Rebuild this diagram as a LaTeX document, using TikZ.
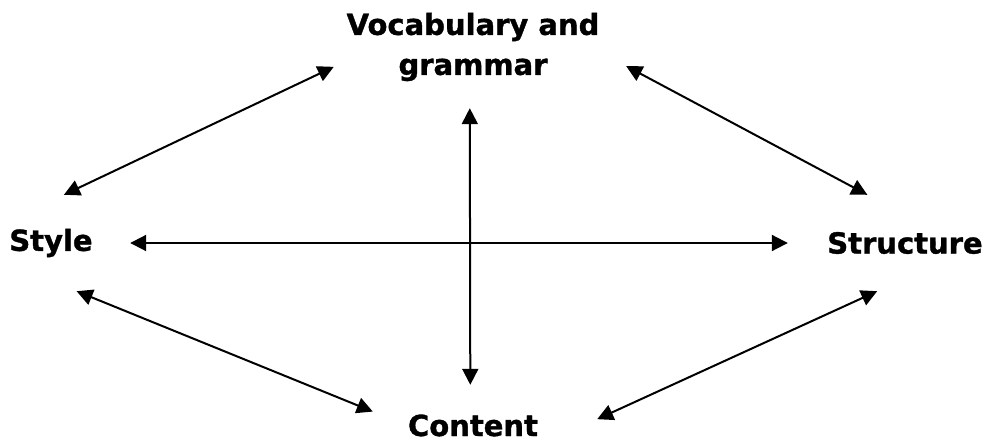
\documentclass[tikz,border=0pt]{standalone}
\usepackage{fontspec}
\setmainfont{DejaVu Sans}[BoldFeatures={FakeBold=1.2}]
\usepackage{tikz}
\usetikzlibrary{arrows.meta, positioning}

\begin{document}
\begin{tikzpicture}[
    x=1pt, y=-1pt,
    font=\fontsize{29}{40}\selectfont\bfseries,
    term_node/.style={inner sep=0pt, align=center},
    arrow/.style={{Triangle[length=16pt,width=16pt]}-{Triangle[length=16pt,width=16pt]}, line width=2pt, draw=black}
]
\useasboundingbox (0,0) rectangle (987,441);

% Terms
\node[term_node, minimum width=292pt, minimum height=122pt] (vocab) at (473,47) {Vocabulary and\\grammar};
\node[term_node, minimum width=158pt, minimum height=96pt] (style) at (51,243) {Style};
\node[term_node, minimum width=234pt, minimum height=96pt] (structure) at (905,243) {Structure};
\node[term_node, minimum width=248pt, text height=51pt, text depth=0pt, anchor=base] (content) at (473,436) {Content};

% Cross
\draw[arrow] (vocab.267.2) -- (content.96.7);
\draw[arrow] (style.east) -- (structure.west);

% Outer links
\draw[arrow, shorten >=-7.7pt] (style.75.96) -- (vocab.189.45);
\draw[arrow, shorten <=7.9pt] (vocab.-6.76) -- (structure.128.37);
\draw[arrow, shorten >=-25.9pt] (style.-62.96) -- (content.176.17);
\draw[arrow] (content.-4.84) -- (structure.240.12);

\end{tikzpicture}
\end{document}
